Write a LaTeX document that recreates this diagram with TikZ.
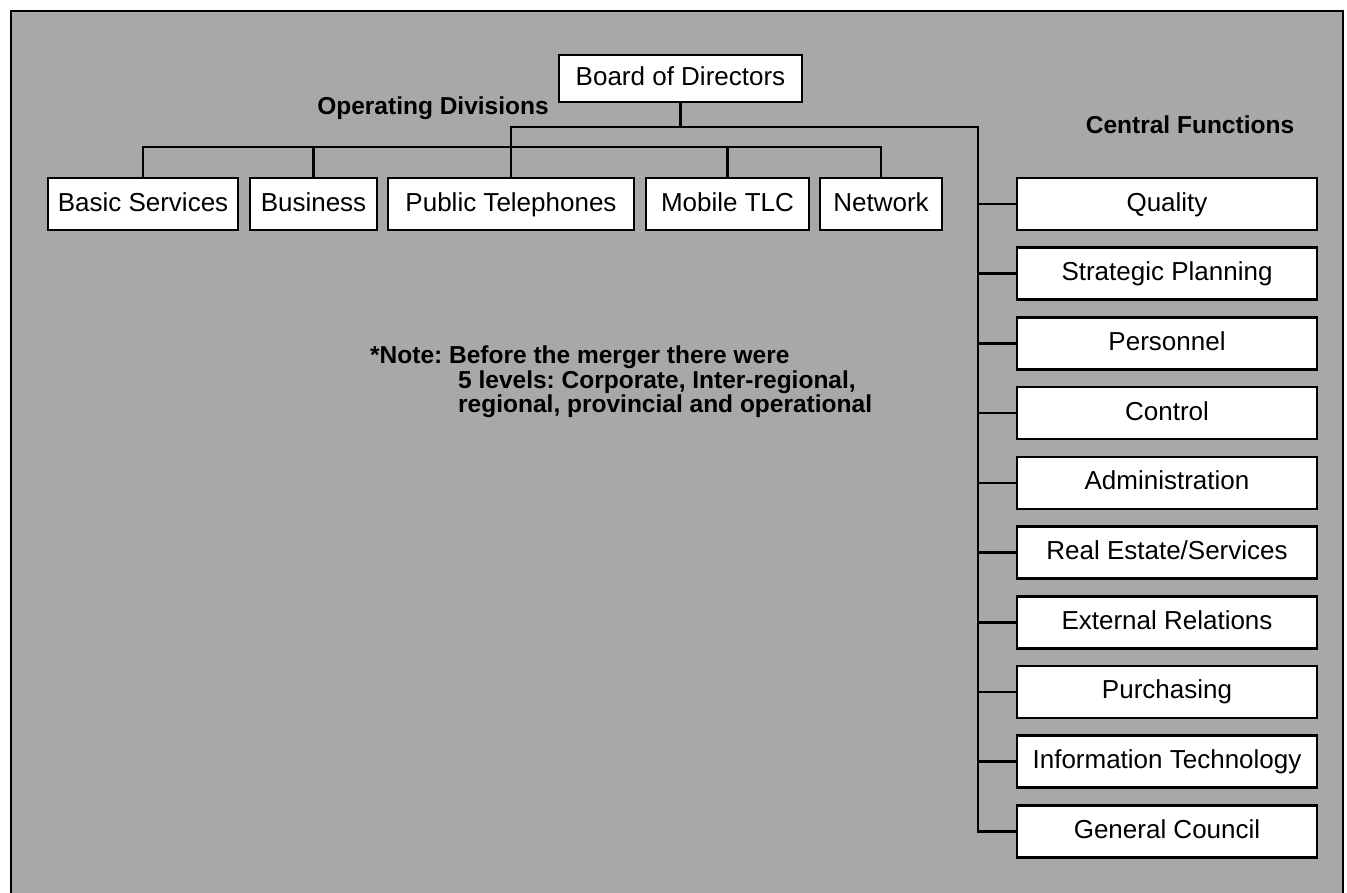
\documentclass[tikz,border=0pt]{standalone}
\usepackage{fontspec}
\setmainfont{Liberation Sans}
\begin{document}
\frenchspacing
\begin{tikzpicture}[x=1pt,y=-1pt,
  box/.style={draw=black, line width=2.6pt, fill=white, inner sep=0pt,
              minimum height=52pt, text height=19pt, text depth=5pt,
              font=\fontsize{26}{30}\selectfont},
  wire/.style={draw=black, line width=2.6pt, line join=miter},
  heading/.style={inner sep=0pt, font=\bfseries\fontsize{24.5}{24.5}\selectfont},
]
\useasboundingbox (0,0) rectangle (1347,892);
\fill[white] (0,0) rectangle (1347,892);
% framed grey panel, running off the lower edge
\begin{scope}
  \clip (0,0) rectangle (1347,892);
  \draw[fill=black!34, line width=2.2pt] (11,11) rectangle (1343,910);
\end{scope}

% top of the chart
\node[box, minimum width=243pt, minimum height=47pt] (board) at (680.5,78.5) {Board of Directors};

% operating divisions
\node[heading] (opdiv) at (433,108) {Operating Divisions};
\node[box, minimum width=190pt] (basic)  at (143,204)   {Basic Services};
\node[box, minimum width=127pt] (busi)   at (313.5,204) {Business};
\node[box, minimum width=246pt] (pub)    at (511,204)   {Public Telephones};
\node[box, minimum width=163pt] (mob)    at (727.5,204) {Mobile TLC};
\node[box, minimum width=122pt] (net)    at (881,204)   {Network};

% central functions
\node[heading] (cf) at (1190,125) {Central Functions};
\foreach \n/\t [count=\i from 0] in {
    qual/Quality, strat/Strategic Planning, pers/Personnel, ctrl/Control,
    adm/Administration, real/{Real Estate/Services}, ext/External Relations,
    purch/Purchasing, it/Information Technology, gc/General Council}
  \node[box, minimum width=300pt] (\n) at (1167,204+69.7*\i) {\t};

% note
\node[heading, anchor=north west, align=left] (note) at (370,346)
  {*Note: Before the merger there were\\
   \hspace*{88pt}5 levels: Corporate, Inter-regional,\\
   \hspace*{88pt}regional, provincial and operational};

% connectors
\coordinate (trunktop) at (978,127);
\coordinate (lowbus) at (0,147);
\draw[wire] (board.south) -- (board.south |- trunktop);
\draw[wire] (pub.north) |- (trunktop) |- (gc.west);
\draw[wire] (basic.north) |- (net.north |- lowbus) -- (net.north);
\draw[wire] (busi.north) -- (busi.north |- lowbus);
\draw[wire] (mob.north) -- (mob.north |- lowbus);
\foreach \n in {qual,strat,pers,ctrl,adm,real,ext,purch,it}
  \draw[wire] (\n.west) -- (\n.west -| trunktop);
\end{tikzpicture}
\end{document}
